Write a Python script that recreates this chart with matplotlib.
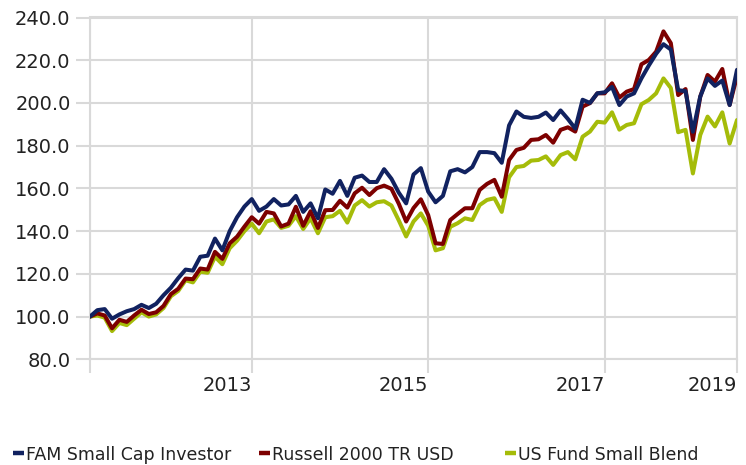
import matplotlib
matplotlib.use("Agg")
import matplotlib.pyplot as plt
from matplotlib.lines import Line2D
import numpy as np

# ---- data (monthly growth of 100) ----
fam = [100, 103, 103.5, 99, 101, 102.5, 103.5, 105.5, 104, 106,
       110, 113.5, 118, 122, 121.5, 128, 128.5, 136.5, 131, 140,
       146.5, 151.5, 155, 149.5, 151.5, 155, 152, 152.5, 156.5, 149,
       153, 146, 159.5, 157.5, 163.5, 156.5, 165, 166, 163, 163,
       169, 164.5, 158, 153, 166.5, 169.5, 158.5, 153.5, 156.5, 168,
       169, 167.5, 170, 177, 177, 176.5, 172, 189.5, 196, 193.5,
       193, 193.5, 195.5, 192, 196.5, 192.5, 188, 201.5, 200, 204.5,
       205, 207.5, 199, 203, 204.5, 211.5, 217.5, 223, 227.5, 225,
       206, 205.5, 186.5, 203, 211.5, 208, 210.5, 199, 215.5]

russell = [100, 101.5, 100.5, 94.5, 98.5, 97.5, 100.5, 103.2, 101.2, 102,
           105, 110.5, 113, 117.8, 117.5, 122.5, 122, 130.3, 127, 134.3,
           137.4, 142.1, 146.5, 143.5, 149, 148.3, 142.2, 143.5, 151.4, 142.5,
           149.3, 141.5, 149.8, 149.9, 154.2, 151, 157.7, 160.3, 156.9, 160.1,
           161.3, 159.8, 152.8, 144.5, 150.8, 154.9, 147.5, 134.3, 134, 145.2,
           148, 150.7, 150.7, 159.3, 162.1, 164, 156.1, 173.3, 178, 179,
           182.7, 183, 185, 181.4, 187.4, 188.6, 186.6, 198.3, 199.9, 204.5,
           204.5, 209.2, 202.5, 205.3, 206.5, 218.1, 220.1, 224, 233.5, 228,
           203.7, 206.5, 182.7, 202.9, 213.1, 210, 215.9, 199.1, 212.5]

blend = [100, 100.5, 99.5, 93.2, 97, 96, 99, 102, 100, 101,
         104, 109.5, 112, 117, 116, 121, 120.5, 128, 124.5, 132,
         135.5, 140, 143.5, 139, 144.5, 145.5, 141.5, 142.5, 147, 141,
         146, 139, 146.5, 147, 149.5, 144, 152, 154.5, 151.5, 153.5,
         154, 152, 145, 137.5, 144.5, 148.3, 142.5, 131, 132, 142,
         143.7, 146, 145.2, 152.2, 154.6, 155.4, 149, 165.2, 170, 170.5,
         173, 173.3, 175, 171, 175.6, 177, 173.6, 184.2, 186.6, 191.2,
         190.8, 195.6, 187.5, 189.7, 190.5, 199.4, 201.4, 204.5, 211.5, 207,
         186.3, 187.4, 167, 185, 193.6, 189, 195.6, 181, 192]

series_names = ["FAM Small Cap Investor", "Russell 2000 TR USD", "US Fund Small Blend"]
series_colors = ["#112260", "#7d0000", "#a5bc09"]

x_tick_pos = [0, 22, 46, 70, 88]
x_tick_labels = ["", "2013", "2015", "2017", "2019"]
y_ticks = [80, 100, 120, 140, 160, 180, 200, 220, 240]

# ---- figure ----
W, H = 746, 465
fig = plt.figure(figsize=(W / 100, H / 100), dpi=100)
ax = fig.add_axes([90 / W, 1 - 359.3 / H, (737 - 90) / W, (359.3 - 17.5) / H])

grid_c = "#d9d9d9"
x = np.arange(len(fam))
data = [fam, russell, blend]
# draw in reverse order so FAM is on top
for vals, c, z in zip(data[::-1], series_colors[::-1], [3, 4, 5]):
    ax.plot(x, vals, color=c, lw=2.9, solid_joinstyle="round",
            solid_capstyle="round", zorder=z)

ax.set_xlim(0, 88)
ax.set_ylim(80, 240)
ax.set_yticks(y_ticks)
ax.set_yticklabels([f"{v:.1f}" for v in y_ticks])
ax.set_xticks(x_tick_pos)
ax.set_xticklabels(x_tick_labels)
for lab in ax.get_xticklabels():
    lab.set_horizontalalignment("right")

ax.grid(True, color=grid_c, lw=1.5, zorder=1)
for s in ax.spines.values():
    s.set_color(grid_c)
    s.set_linewidth(1.5)
ax.tick_params(axis="both", colors=grid_c, width=1.5, length=10,
               labelcolor="#222222", labelsize=14)
ax.tick_params(axis="y", pad=4)
ax.tick_params(axis="x", pad=2)

# ---- legend (manual, evenly spaced items) ----
for i, (name, c) in enumerate(zip(series_names, series_colors)):
    x0 = 13 + 246 * i
    fig.add_artist(Line2D([x0 / W, (x0 + 11) / W], [1 - 452.5 / H] * 2,
                          color=c, lw=3.2, solid_capstyle="butt"))
    fig.text((x0 + 13) / W, 1 - 455 / H, name, fontsize=12.5,
             color="#222222", va="center", ha="left")

fig.savefig("out.png", dpi=100)
